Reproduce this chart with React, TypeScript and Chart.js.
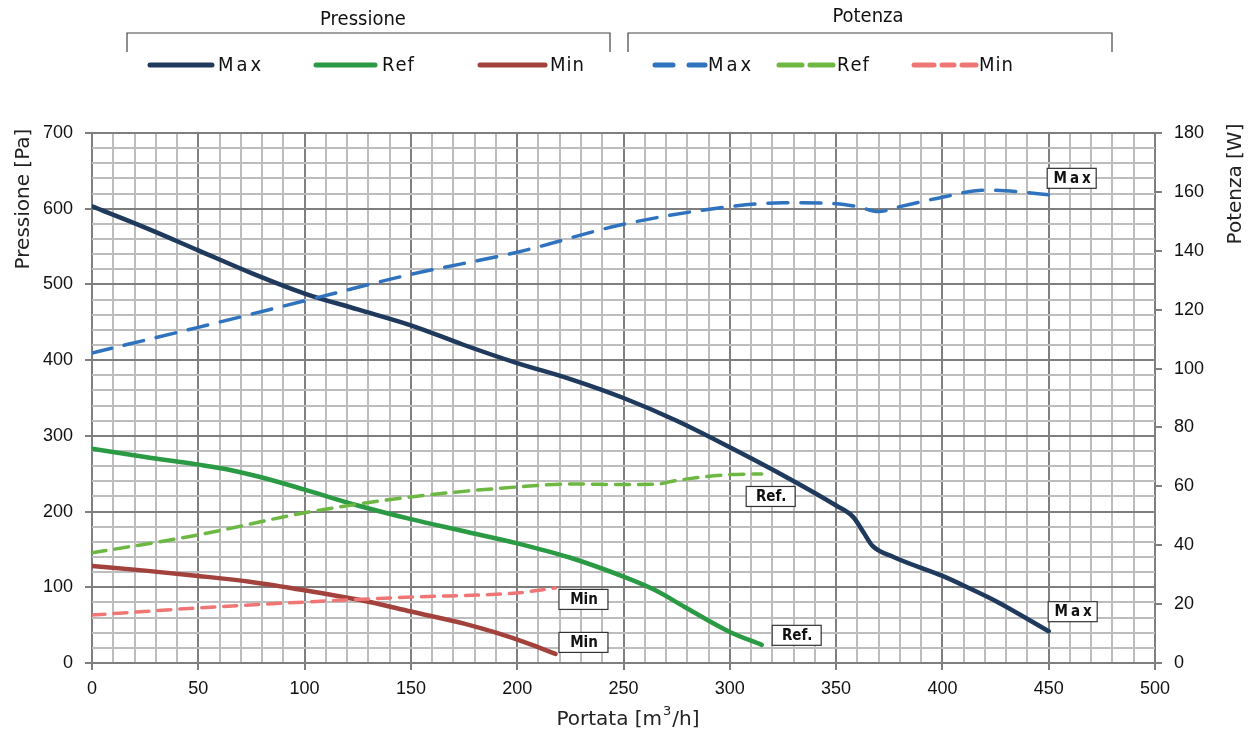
import React, { useEffect, useRef } from "react";
import { Chart, registerables } from "chart.js";

Chart.register(...registerables);

// Portata [m3/h] – pressure curves
const maxPX = [0, 25, 50, 75, 100, 125, 150, 175, 200, 225, 250, 275, 300, 325, 350, 358, 363, 367, 377, 400, 411, 425, 450];
const maxPY = [603, 575, 545, 515, 488, 467, 446, 420, 396, 375, 350, 320, 285, 248, 208, 193, 172, 155, 140, 115, 101, 82, 42];
const refPX = [0, 25, 50, 65, 80, 100, 125, 150, 175, 200, 225, 250, 265, 280, 300, 315];
const refPY = [283, 272, 262, 255, 245, 229, 208, 190, 174, 158, 139, 114, 96, 72, 41, 24];
const minPX = [0, 25, 50, 75, 100, 130, 150, 175, 190, 205, 218];
const minPY = [128, 122, 115, 107, 96, 81, 68, 52, 40, 26, 12];

// Potenza [W] curves
const maxWX = [0, 50, 100, 150, 200, 250, 300, 325, 350, 360, 370, 380, 400, 420, 435, 450];
const maxWY = [105.3, 114, 123, 132, 139.5, 149, 155, 156.3, 156, 155, 153.3, 155, 158.2, 160.6, 160.1, 159];
const refWX = [0, 50, 100, 150, 200, 225, 250, 265, 275, 300, 315];
const refWY = [37.4, 43.5, 51, 56.4, 59.8, 60.8, 60.6, 60.7, 62, 64, 64.2];
const minWX = [0, 50, 100, 150, 200, 218];
const minWY = [16.3, 18.7, 20.7, 22.4, 23.8, 25.5];

const xTicks = [0, 50, 100, 150, 200, 250, 300, 350, 400, 450, 500];
const leftTicks = [0, 100, 200, 300, 400, 500, 600, 700];

const C_MAXP = "#1f3a5c";
const C_REFP = "#2b9a44";
const C_MINP = "#a3423c";
const C_MAXW = "#2f72be";
const C_REFW = "#6cb843";
const C_MINW = "#f07676";

const FONT = "'Liberation Sans', 'DejaVu Sans', sans-serif";
const WIDE = "'DejaVu Sans', 'Liberation Sans', sans-serif";
const NARROW = "'DejaVu Sans Condensed', 'Liberation Sans', sans-serif";

const pts = (xs: number[], ys: number[]) => xs.map((x, i) => ({ x, y: ys[i] }));

const extrasPlugin = {
  id: "extras",
  afterDraw(chart: any) {
    const ctx = chart.ctx as CanvasRenderingContext2D;
    const xs = chart.scales.x;
    const yl = chart.scales.y;
    const yr = chart.scales.y2;
    ctx.save();

    // Axis titles
    ctx.fillStyle = "#222";
    ctx.font = `20px ${WIDE}`;
    ctx.textAlign = "center";
    ctx.textBaseline = "middle";
    ctx.save();
    ctx.translate(24, 199);
    ctx.rotate(-Math.PI / 2);
    ctx.fillText("Pressione [Pa]", 0, 0);
    ctx.restore();
    ctx.save();
    ctx.translate(1236, 184);
    ctx.rotate(-Math.PI / 2);
    ctx.fillText("Potenza [W]", 0, 0);
    ctx.restore();
    // x title with superscript
    const t1 = "Portata [m";
    const t2 = "/h]";
    ctx.font = `20px ${WIDE}`;
    const w1 = ctx.measureText(t1).width;
    const w3 = ctx.measureText(t2).width;
    ctx.font = `13px ${WIDE}`;
    const w2 = ctx.measureText("3").width + 2;
    const total = w1 + w2 + w3;
    const sx = 628 - total / 2;
    ctx.textAlign = "left";
    ctx.font = `20px ${WIDE}`;
    ctx.fillText(t1, sx, 720);
    ctx.font = `13px ${WIDE}`;
    ctx.fillText("3", sx + w1 + 1, 712);
    ctx.font = `20px ${WIDE}`;
    ctx.fillText(t2, sx + w1 + w2, 720);

    // Legend brackets
    ctx.strokeStyle = "#444";
    ctx.lineWidth = 1.2;
    const bracket = (x0: number, x1: number) => {
      ctx.beginPath();
      ctx.moveTo(x0, 52);
      ctx.lineTo(x0, 33);
      ctx.lineTo(x1, 33);
      ctx.lineTo(x1, 52);
      ctx.stroke();
    };
    bracket(127, 610);
    bracket(628, 1112);
    ctx.fillStyle = "#111";
    ctx.font = `20px ${NARROW}`;
    ctx.textAlign = "center";
    ctx.fillText("Pressione", 363, 20);
    ctx.fillText("Potenza", 868, 17);

    const legendLine = (x0: number, x1: number, color: string, w: number) => {
      ctx.save();
      ctx.strokeStyle = color;
      ctx.lineWidth = w;
      ctx.lineCap = "round";
      ctx.beginPath();
      ctx.moveTo(x0, 65);
      ctx.lineTo(x1, 65);
      ctx.stroke();
      ctx.restore();
    };
    const legendText = (x: number, s: string, spacing: number) => {
      ctx.font = `20px ${NARROW}`;
      ctx.textAlign = "left";
      ctx.fillStyle = "#111";
      let cx = x;
      for (const ch of s) {
        ctx.fillText(ch, cx, 66);
        cx += ctx.measureText(ch).width + spacing;
      }
    };
    legendLine(150, 212, C_MAXP, 5);
    legendText(218, "Max", 3);
    legendLine(316, 375, C_REFP, 5);
    legendText(382, "Ref", 1);
    legendLine(480, 545, C_MINP, 5);
    legendText(550, "Min", 1);
    legendLine(655, 673, C_MAXW, 5);
    legendLine(689, 705, C_MAXW, 5);
    legendText(708, "Max", 3);
    legendLine(779, 802, C_REFW, 5);
    legendLine(810, 833, C_REFW, 5);
    legendText(837, "Ref", 1);
    legendLine(914, 934, C_MINW, 5);
    legendLine(942, 954, C_MINW, 5);
    legendLine(962, 976, C_MINW, 5);
    legendText(979, "Min", 1);

    // End labels
    const box = (px: number, py: number, text: string, spacing: number) => {
      ctx.font = `bold 15px ${NARROW}`;
      let w = 0;
      for (const ch of text) w += ctx.measureText(ch).width + spacing;
      w -= spacing;
      const bw = 49;
      const bh = 20;
      ctx.fillStyle = "#fff";
      ctx.fillRect(px, py, bw, bh);
      ctx.strokeStyle = "#333";
      ctx.lineWidth = 1.2;
      ctx.strokeRect(px + 0.5, py + 0.5, bw, bh);
      ctx.fillStyle = "#111";
      ctx.textAlign = "left";
      ctx.textBaseline = "middle";
      let cx = px + (bw - w) / 2 + 1;
      for (const ch of text) {
        ctx.fillText(ch, cx, py + bh / 2 + 1);
        cx += ctx.measureText(ch).width + spacing;
      }
    };
    const last = (a: number[]) => a[a.length - 1];
    box(xs.getPixelForValue(last(maxWX)) - 2, yr.getPixelForValue(last(maxWY)) - 27, "Max", 3);
    box(xs.getPixelForValue(last(refWX)) - 16, yr.getPixelForValue(last(refWY)) + 12, "Ref.", 0);
    box(xs.getPixelForValue(last(minWX)) + 3, yr.getPixelForValue(last(minWY)) + 1, "Min", 0);
    box(xs.getPixelForValue(last(minPX)) + 3, yl.getPixelForValue(last(minPY)) - 22, "Min", 0);
    box(xs.getPixelForValue(last(refPX)) + 10, yl.getPixelForValue(last(refPY)) - 20, "Ref.", 0);
    box(xs.getPixelForValue(last(maxPX)) - 1, yl.getPixelForValue(last(maxPY)) - 30, "Max", 3);

    ctx.restore();
  },
};

export default function App() {
  const ref = useRef<HTMLCanvasElement | null>(null);
  useEffect(() => {
    if (!ref.current) return;
    const solid = (data: any[], color: string) => ({
      data,
      borderColor: color,
      borderWidth: 4.5,
      pointRadius: 0,
      fill: false,
      cubicInterpolationMode: "monotone" as const,
      borderCapStyle: "round" as const,
      yAxisID: "y",
    });
    const dashed = (data: any[], color: string, dash: number[]) => ({
      data,
      borderColor: color,
      borderWidth: 3.5,
      borderDash: dash,
      pointRadius: 0,
      fill: false,
      cubicInterpolationMode: "monotone" as const,
      borderCapStyle: "round" as const,
      yAxisID: "y2",
    });
    const chart = new Chart(ref.current, {
      type: "line",
      data: {
        datasets: [
          dashed(pts(maxWX, maxWY), C_MAXW, [20, 13]),
          dashed(pts(refWX, refWY), C_REFW, [14, 9]),
          dashed(pts(minWX, minWY), C_MINW, [13, 9]),
          solid(pts(maxPX, maxPY), C_MAXP),
          solid(pts(refPX, refPY), C_REFP),
          solid(pts(minPX, minPY), C_MINP),
        ] as any,
      },
      options: {
        animation: false,
        responsive: false,
        maintainAspectRatio: false,
        layout: { padding: { top: 133, left: 0, right: 0, bottom: 0 } },
        plugins: { legend: { display: false }, tooltip: { enabled: false } },
        scales: {
          x: {
            type: "linear",
            min: 0,
            max: 500,
            afterFit: (s: any) => { s.height = 72; },
            afterBuildTicks: (s: any) => {
              const t = [];
              for (let v = 0; v <= 500; v += 10) t.push({ value: v });
              s.ticks = t;
            },
            ticks: {
              autoSkip: false,
              maxRotation: 0,
              padding: 8,
              color: "#111",
              font: { family: FONT, size: 18 },
              callback: (v: any) => (xTicks.includes(Number(v)) ? String(v) : ""),
            },
            grid: {
              color: (c: any) => (c.tick && c.tick.value % 50 === 0 ? "#7f7f7f" : "#bdbdbd"),
              lineWidth: 2,
              tickLength: 7,
              tickColor: (c: any) => (c.tick && c.tick.value % 50 === 0 ? "#7f7f7f" : "rgba(0,0,0,0)"),
            },
            border: { display: false },
          },
          y: {
            type: "linear",
            position: "left",
            min: 0,
            max: 700,
            afterFit: (s: any) => { s.width = 92; },
            afterBuildTicks: (s: any) => {
              const t = [];
              for (let v = 0; v <= 700; v += 20) t.push({ value: v });
              s.ticks = t;
            },
            ticks: {
              autoSkip: false,
              padding: 12,
              color: "#111",
              font: { family: FONT, size: 18 },
              callback: (v: any) => (leftTicks.includes(Number(v)) ? String(v) : ""),
            },
            grid: {
              color: (c: any) => (c.tick && c.tick.value % 100 === 0 ? "#7f7f7f" : "#bdbdbd"),
              lineWidth: 2,
              tickLength: 7,
              tickColor: (c: any) => (c.tick && c.tick.value % 100 === 0 ? "#7f7f7f" : "rgba(0,0,0,0)"),
            },
            border: { display: false },
          },
          y2: {
            type: "linear",
            position: "right",
            min: 0,
            max: 180,
            afterFit: (s: any) => { s.width = 100; },
            ticks: {
              stepSize: 20,
              autoSkip: false,
              padding: 12,
              color: "#111",
              font: { family: FONT, size: 18 },
            },
            grid: { drawOnChartArea: false, tickLength: 7, color: "#7f7f7f", lineWidth: 2 },
            border: { display: false },
          },
        },
      },
      plugins: [extrasPlugin],
    });
    return () => chart.destroy();
  }, []);
  return (
    <div style={{ position: "fixed", left: 0, top: 0, width: 1255, height: 735, background: "#fff" }}>
      <canvas ref={ref} width={1255} height={735} style={{ width: 1255, height: 735 }} />
    </div>
  );
}
